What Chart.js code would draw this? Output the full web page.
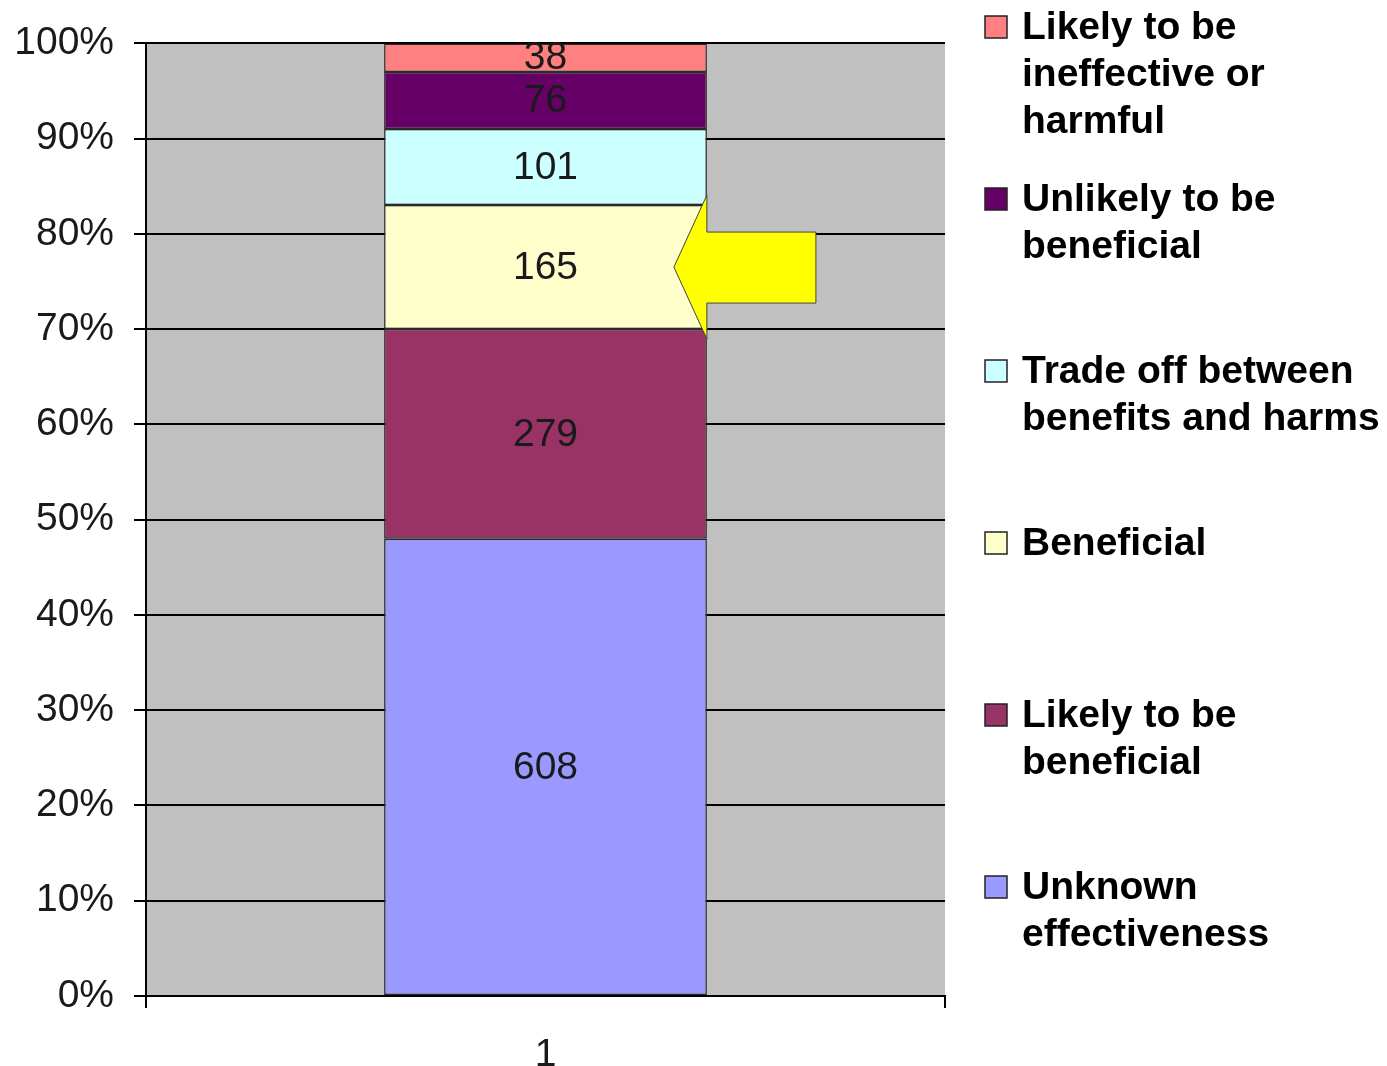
<!DOCTYPE html>
<html>
<head>
<meta charset="utf-8">
<script src="https://cdn.jsdelivr.net/npm/chart.js@4.4.1/dist/chart.umd.min.js"></script>
<style>
  html, body { margin: 0; padding: 0; background: #fff; }
  #wrap { width: 1387px; height: 1066px; }
</style>
</head>
<body>
<div id="wrap"><canvas id="chart"></canvas></div>
<script>
// bottom to top of the stack
const seriesNames = [
    ['Unknown', 'effectiveness'],
    ['Likely to be', 'beneficial'],
    ['Beneficial'],
    ['Trade off between', 'benefits and harms'],
    ['Unlikely to be', 'beneficial'],
    ['Likely to be', 'ineffective or', 'harmful']
];
const counts = [608, 279, 165, 101, 76, 38];
const colors = ['#9999FF', '#993366', '#FFFFCC', '#CCFFFF', '#660066', '#FF8080'];
const categories = ['1'];
const highlighted = 2; // "Beneficial" gets the arrow

const total = counts.reduce((a, b) => a + b, 0);
const FONT = '"Liberation Sans", Arial, sans-serif';

const datasets = counts.map(function (c, i) {
    return {
        label: seriesNames[i].join(' '),
        data: [c / total * 100],
        count: c,
        backgroundColor: colors[i],
        borderColor: '#2a2a2a',
        borderWidth: 1.5,
        borderSkipped: false,
        stack: 's',
        barPercentage: 0.404,
        categoryPercentage: 1
    };
});

const plotBg = {
    id: 'plotBg',
    beforeDraw(chart) {
        const a = chart.chartArea;
        const c = chart.ctx;
        c.save();
        c.fillStyle = '#C0C0C0';
        c.fillRect(a.left, a.top, a.right - a.left, a.bottom - a.top);
        c.restore();
    }
};

const segLabels = {
    id: 'segLabels',
    afterDatasetsDraw(chart) {
        const c = chart.ctx;
        c.save();
        c.font = '39px ' + FONT;
        c.fillStyle = '#1a1a1a';
        c.textAlign = 'center';
        c.textBaseline = 'middle';
        chart.data.datasets.forEach(function (ds, i) {
            const bar = chart.getDatasetMeta(i).data[0];
            c.fillText(String(ds.count), bar.x, (bar.y + bar.base) / 2 + 1);
        });

        // yellow arrow pointing at the highlighted segment
        const b = chart.getDatasetMeta(highlighted).data[0];
        const right = b.x + b.width / 2;
        const my = (b.y + b.base) / 2;
        c.beginPath();
        c.moveTo(right - 33, my);
        c.lineTo(right, my - 72);
        c.lineTo(right, my - 35);
        c.lineTo(right + 109, my - 35);
        c.lineTo(right + 109, my + 36);
        c.lineTo(right, my + 36);
        c.lineTo(right, my + 72);
        c.closePath();
        c.fillStyle = '#FFFF00';
        c.fill();
        c.lineWidth = 1;
        c.strokeStyle = '#444';
        c.stroke();
        c.restore();
    }
};

const sideLegend = {
    id: 'sideLegend',
    afterDraw(chart) {
        const c = chart.ctx;
        const x0 = 985, tx = 1022, y0 = 27, gap = 172, lh = 47;
        c.save();
        c.font = 'bold 39px ' + FONT;
        c.textBaseline = 'middle';
        c.textAlign = 'left';
        for (let k = 0; k < seriesNames.length; k++) {
            const i = seriesNames.length - 1 - k;
            const y = y0 + k * gap;
            c.fillStyle = colors[i];
            c.fillRect(x0, y - 11, 22, 22);
            c.lineWidth = 1.5;
            c.strokeStyle = '#222';
            c.strokeRect(x0, y - 11, 22, 22);
            c.fillStyle = '#000';
            seriesNames[i].forEach(function (line, j) {
                c.fillText(line, tx, y + j * lh + 1);
            });
        }
        c.restore();
    }
};

new Chart(document.getElementById('chart'), {
    type: 'bar',
    data: { labels: categories, datasets: datasets },
    options: {
        responsive: true,
        maintainAspectRatio: false,
        animation: false,
        layout: { padding: { top: 38, right: 442, bottom: 0, left: 0 } },
        plugins: {
            legend: { display: false },
            tooltip: { enabled: false }
        },
        scales: {
            x: {
                stacked: true,
                offset: true,
                afterFit: function (s) { s.height = 70; },
                grid: {
                    display: true,
                    drawOnChartArea: false,
                    offset: true,
                    color: '#000',
                    lineWidth: 2,
                    tickLength: 12
                },
                border: { display: true, color: '#000', width: 2 },
                ticks: {
                    color: '#1a1a1a',
                    padding: 24,
                    font: { family: FONT, size: 39 }
                }
            },
            y: {
                stacked: true,
                min: 0,
                max: 100,
                afterFit: function (s) { s.width = 146; },
                grid: {
                    color: '#000',
                    lineWidth: 2,
                    tickLength: 12
                },
                border: { display: true, color: '#000', width: 2 },
                ticks: {
                    stepSize: 10,
                    color: '#1a1a1a',
                    padding: 20,
                    font: { family: FONT, size: 39 },
                    callback: function (v) { return v + '%'; }
                }
            }
        }
    },
    plugins: [plotBg, segLabels, sideLegend]
});
</script>
</body>
</html>
